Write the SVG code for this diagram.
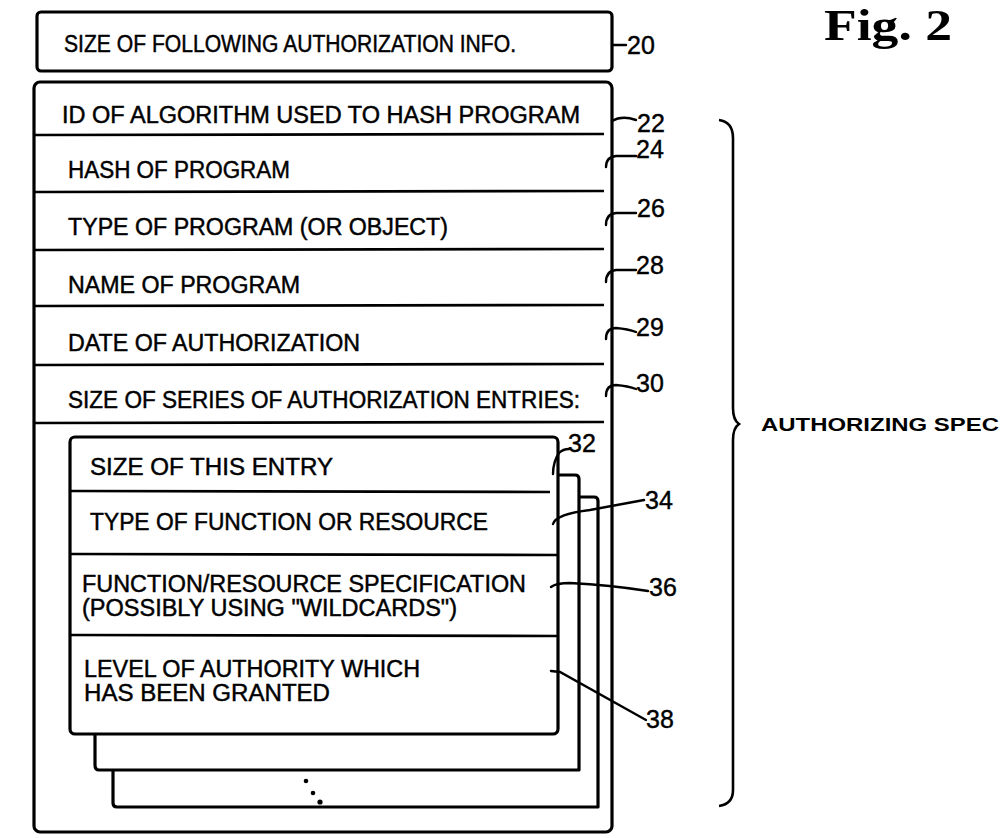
<svg xmlns="http://www.w3.org/2000/svg" width="1003" height="838" viewBox="0 0 1003 838">
<style>
.box{fill:none;stroke:#000;stroke-width:3.2;stroke-linejoin:round}
.card{fill:#fff;stroke:#000;stroke-width:3.2;stroke-linejoin:round}
.div{stroke:#000;stroke-width:2.6;fill:none}
.lead{stroke:#000;stroke-width:2.4;fill:none;stroke-linecap:round}
.t{font-family:"Liberation Sans",Arial,sans-serif;font-size:23px;fill:#000;stroke:#000;stroke-width:0.45}
.n{font-family:"Liberation Sans",Arial,sans-serif;font-size:25px;fill:#000;stroke:#000;stroke-width:0.4}
.spec{font-family:"Liberation Sans",Arial,sans-serif;font-size:18px;font-weight:bold;fill:#000}
.fig{font-family:"Liberation Serif","Times New Roman",serif;font-size:44px;font-weight:bold;fill:#000}
</style>
<rect width="1003" height="838" fill="#fff"/>
<g id="title"><text class="fig" x="824" y="40" textLength="128" lengthAdjust="spacingAndGlyphs">Fig. 2</text></g>

<g id="n20">
<rect class="box" x="37" y="12" width="575" height="59" rx="4"/>
<text class="t" x="64" y="52" textLength="452" lengthAdjust="spacingAndGlyphs">SIZE OF FOLLOWING AUTHORIZATION INFO.</text>
</g>

<g id="spec">
<rect class="box" x="34" y="82" width="578" height="750" rx="6"/>
<line class="div" x1="34" y1="135" x2="604" y2="134"/>
<line class="div" x1="34" y1="192" x2="604" y2="191"/>
<line class="div" x1="34" y1="250" x2="604" y2="249"/>
<line class="div" x1="34" y1="306" x2="604" y2="305"/>
<line class="div" x1="34" y1="365" x2="604" y2="364"/>
<line class="div" x1="34" y1="423" x2="604" y2="422"/>
</g>
<g id="n22"><text class="t" x="62" y="123" textLength="518" lengthAdjust="spacingAndGlyphs">ID OF ALGORITHM USED TO HASH PROGRAM</text></g>
<g id="n24"><text class="t" x="68" y="178" textLength="222" lengthAdjust="spacingAndGlyphs">HASH OF PROGRAM</text></g>
<g id="n26"><text class="t" x="68" y="235" textLength="380" lengthAdjust="spacingAndGlyphs">TYPE OF PROGRAM (OR OBJECT)</text></g>
<g id="n28"><text class="t" x="68" y="293" textLength="232" lengthAdjust="spacingAndGlyphs">NAME OF PROGRAM</text></g>
<g id="n29"><text class="t" x="68" y="351" textLength="292" lengthAdjust="spacingAndGlyphs">DATE OF AUTHORIZATION</text></g>
<g id="n30"><text class="t" x="68" y="408" textLength="512" lengthAdjust="spacingAndGlyphs">SIZE OF SERIES OF AUTHORIZATION ENTRIES:</text></g>

<g id="entries">
<path class="card" d="M113,770 V803 Q113,807 117,807 H598 V501 Q598,497 594,497 H579"/>
<path class="card" d="M95,734 V765 Q95,770 99,770 H579 V479 Q579,475 575,475 H558"/>
<rect class="card" x="70" y="437" width="488" height="297" rx="5"/>
<line class="div" x1="70" y1="491" x2="550" y2="492"/>
<line class="div" x1="70" y1="554" x2="558" y2="555"/>
<line class="div" x1="70" y1="635" x2="558" y2="636"/>
<circle cx="306" cy="781" r="2.3"/>
<circle cx="313" cy="793" r="2.3"/>
<circle cx="320" cy="802" r="2.6"/>
</g>
<g id="n32"><text class="t" x="90" y="475" textLength="243" lengthAdjust="spacingAndGlyphs">SIZE OF THIS ENTRY</text></g>
<g id="n34"><text class="t" x="90" y="530" textLength="398" lengthAdjust="spacingAndGlyphs">TYPE OF FUNCTION OR RESOURCE</text></g>
<g id="n36">
<text class="t" x="82" y="592" textLength="444" lengthAdjust="spacingAndGlyphs">FUNCTION/RESOURCE SPECIFICATION</text>
<text class="t" x="82" y="616" textLength="375" lengthAdjust="spacingAndGlyphs">(POSSIBLY USING "WILDCARDS")</text>
</g>
<g id="n38">
<text class="t" x="84" y="677" textLength="336" lengthAdjust="spacingAndGlyphs">LEVEL OF AUTHORITY WHICH</text>
<text class="t" x="84" y="701" textLength="246" lengthAdjust="spacingAndGlyphs">HAS BEEN GRANTED</text>
</g>

<g id="brace">
<path d="M719,120 Q733,122 733,138 V408 Q733,420 739,424 Q733,428 733,440 V790 Q733,804 719,806" fill="none" stroke="#000" stroke-width="2.6"/>
<text class="spec" x="761" y="431" textLength="238" lengthAdjust="spacingAndGlyphs">AUTHORIZING SPEC</text>
</g>

<g id="connectors">
<line class="lead" x1="612" y1="45" x2="626" y2="45"/>
<path class="lead" d="M612,121 Q622,115 636,120"/>
<path class="lead" d="M606,167 Q606,157 616,156 H636"/>
<path class="lead" d="M606,225 Q606,214 616,213 H636"/>
<path class="lead" d="M606,282 Q606,271 616,270 H636"/>
<path class="lead" d="M606,339 Q606,328 616,328 Q628,329 636,332"/>
<path class="lead" d="M606,396 Q606,385 616,385 Q628,386 636,389"/>
<path class="lead" d="M553,474 Q553,462 559,453 Q563,449 569,449"/>
<path class="lead" d="M553,524 Q556,514 590,510 L644,500"/>
<path class="lead" d="M551,587 Q556,583 570,583 Q610,585 648,591"/>
<path class="lead" d="M551,671 L560,672 L646,720"/>
<text class="n" x="627" y="54">20</text>
<text class="n" x="637" y="132">22</text>
<text class="n" x="636" y="158">24</text>
<text class="n" x="637" y="217">26</text>
<text class="n" x="636" y="274">28</text>
<text class="n" x="636" y="336">29</text>
<text class="n" x="636" y="392">30</text>
<text class="n" x="568" y="452">32</text>
<text class="n" x="645" y="509">34</text>
<text class="n" x="649" y="596">36</text>
<text class="n" x="646" y="728">38</text>
</g>
</svg>
